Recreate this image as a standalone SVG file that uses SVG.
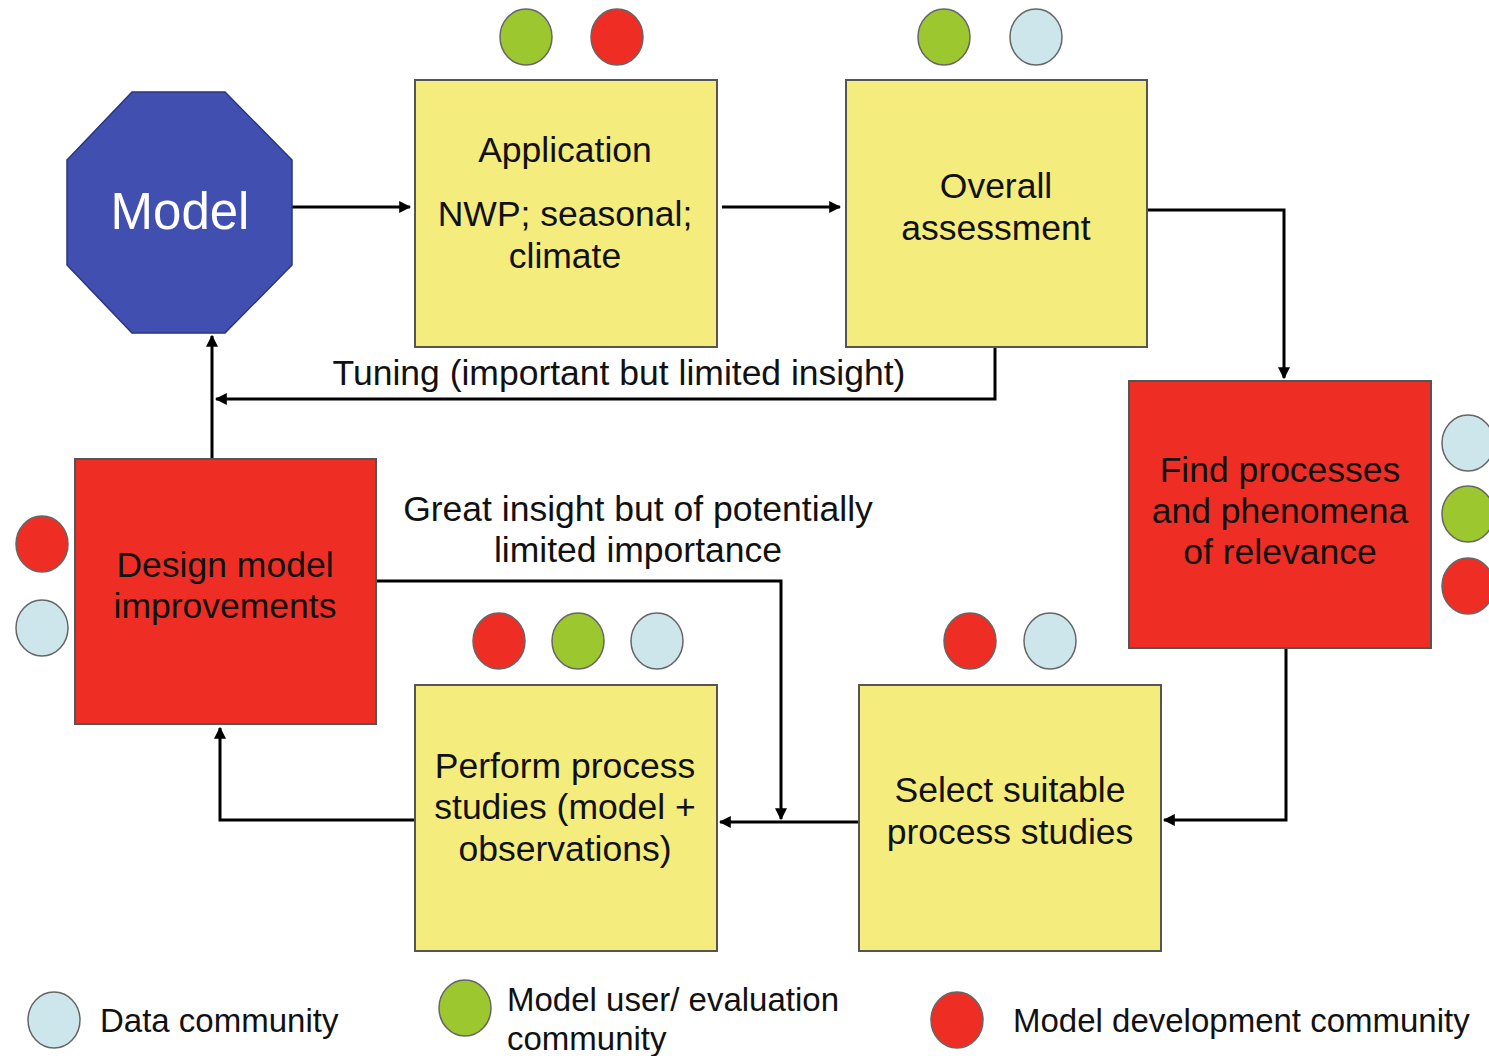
<svg xmlns="http://www.w3.org/2000/svg" width="1489" height="1056" viewBox="0 0 1489 1056">
<defs>
<style>
.t{font-family:"Liberation Sans",Arial,sans-serif;font-size:35.5px;fill:#111;text-anchor:middle}
.lg{font-family:"Liberation Sans",Arial,sans-serif;font-size:33px;fill:#111}
.y{fill:#F4EC7C;stroke:#555;stroke-width:2}
.r{fill:#EE2E24;stroke:#555;stroke-width:2}
.c{stroke:#666;stroke-width:1.5}
.dr{fill:#EE2E24}
.dg{fill:#9DC72F}
.db{fill:#CDE6EC}
.ln{fill:none;stroke:#000;stroke-width:3}
</style>
<marker id="ah" viewBox="0 0 10 10" refX="9" refY="5" markerWidth="4" markerHeight="4" orient="auto" markerUnits="strokeWidth">
<path d="M0,0 L10,5 L0,10 Z" fill="#000"/>
</marker>
</defs>
<rect width="1489" height="1056" fill="#fff"/>

<g id="connectors">
<path class="ln" d="M292,207 H410" marker-end="url(#ah)"/>
<path class="ln" d="M722,207 H840" marker-end="url(#ah)"/>
<path class="ln" d="M1147,210 H1284 V378" marker-end="url(#ah)"/>
<path class="ln" d="M995,347 V399 H216" marker-end="url(#ah)"/>
<path class="ln" d="M212,459 V336" marker-end="url(#ah)"/>
<path class="ln" d="M1286,647 V820 H1164" marker-end="url(#ah)"/>
<path class="ln" d="M859,822 H720" marker-end="url(#ah)"/>
<path class="ln" d="M376,581 H781 V819" marker-end="url(#ah)"/>
<path class="ln" d="M415,820 H220 V728" marker-end="url(#ah)"/>
<text class="t" x="619" y="385">Tuning (important but limited insight)</text>
<text class="t" x="638" y="521">Great insight but of potentially</text>
<text class="t" x="638" y="562">limited importance</text>
</g>

<g id="model">
<polygon points="132,92 225,92 292,160 292,265 225,333 132,333 67,265 67,160" fill="#4150B0" stroke="#2a3580" stroke-width="1.5"/>
<text class="t" x="180" y="229" style="font-size:51px;fill:#fff">Model</text>
</g>

<g id="application">
<rect class="y" x="415" y="80" width="302" height="267"/>
<text class="t" x="565" y="162">Application</text>
<text class="t" x="565" y="226">NWP; seasonal;</text>
<text class="t" x="565" y="268">climate</text>
<ellipse class="c dg" cx="526" cy="37" rx="26" ry="28"/>
<ellipse class="c dr" cx="617" cy="37" rx="26" ry="28"/>
</g>

<g id="overall">
<rect class="y" x="846" y="80" width="301" height="267"/>
<text class="t" x="996" y="198">Overall</text>
<text class="t" x="996" y="240">assessment</text>
<ellipse class="c dg" cx="944" cy="37" rx="26" ry="28"/>
<ellipse class="c db" cx="1036" cy="37" rx="26" ry="28"/>
</g>

<g id="find">
<rect class="r" x="1129" y="381" width="302" height="267"/>
<text class="t" x="1280" y="482">Find processes</text>
<text class="t" x="1280" y="523">and phenomena</text>
<text class="t" x="1280" y="564">of relevance</text>
<ellipse class="c db" cx="1468" cy="443" rx="26" ry="28"/>
<ellipse class="c dg" cx="1468" cy="514" rx="26" ry="28"/>
<ellipse class="c dr" cx="1468" cy="586" rx="26" ry="28"/>
</g>

<g id="design">
<rect class="r" x="75" y="459" width="301" height="265"/>
<text class="t" x="225" y="577">Design model</text>
<text class="t" x="225" y="618">improvements</text>
<ellipse class="c dr" cx="42" cy="544" rx="26" ry="28"/>
<ellipse class="c db" cx="42" cy="628" rx="26" ry="28"/>
</g>

<g id="perform">
<rect class="y" x="415" y="685" width="302" height="266"/>
<text class="t" x="565" y="778">Perform process</text>
<text class="t" x="565" y="819">studies (model +</text>
<text class="t" x="565" y="861">observations)</text>
<ellipse class="c dr" cx="499" cy="641" rx="26" ry="28"/>
<ellipse class="c dg" cx="578" cy="641" rx="26" ry="28"/>
<ellipse class="c db" cx="657" cy="641" rx="26" ry="28"/>
</g>

<g id="select">
<rect class="y" x="859" y="685" width="302" height="266"/>
<text class="t" x="1010" y="802">Select suitable</text>
<text class="t" x="1010" y="844">process studies</text>
<ellipse class="c dr" cx="970" cy="641" rx="26" ry="28"/>
<ellipse class="c db" cx="1050" cy="641" rx="26" ry="28"/>
</g>

<g id="legend">
<ellipse class="c db" cx="54" cy="1020" rx="26" ry="28"/>
<text class="lg" x="100" y="1032">Data community</text>
<ellipse class="c dg" cx="465" cy="1008" rx="26" ry="28"/>
<text class="lg" x="507" y="1011">Model user/ evaluation</text>
<text class="lg" x="507" y="1050">community</text>
<ellipse class="c dr" cx="957" cy="1020" rx="26" ry="28"/>
<text class="lg" x="1013" y="1032">Model development community</text>
</g>
</svg>
